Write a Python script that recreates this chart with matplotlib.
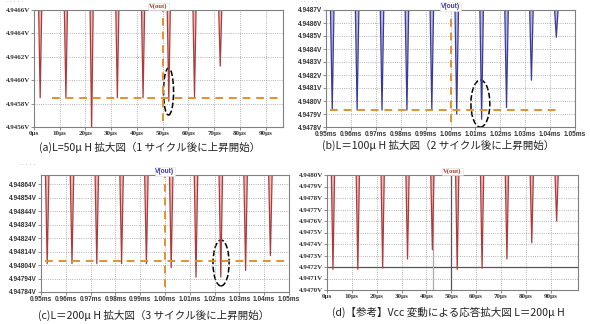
import numpy as np
import matplotlib.pyplot as plt
from matplotlib.patches import Ellipse

plt.rcParams['font.family'] = ['Noto Sans CJK JP', 'DejaVu Sans']

# (a) L=50uH, time in us
a_dip_t = [2.4, 12.4, 22.4, 32.4, 42.4, 52.4, 62.4, 72.4]
a_dip_v = [4.94585, 4.94585, 4.94557, 4.94585, 4.94585, 4.94582, 4.94585, 4.94612]
a_yticks = [4.9456, 4.9458, 4.9460, 4.9462, 4.9464, 4.9466]
a_xticks = [0, 10, 20, 30, 40, 50, 60, 70, 80, 90]
a_level = 4.94585

# (b) L=100uH, time in ms
b_dip_t = [0.9525, 0.9625, 0.9725, 0.9825, 0.9925, 1.0025, 1.0125, 1.0225, 1.0325, 1.0425]
b_dip_v = [4.94793, 4.94793, 4.94793, 4.94793, 4.94793, 4.94790, 4.94786, 4.94795, 4.94816, 4.94849]
b_yticks = [4.9478, 4.9479, 4.9480, 4.9481, 4.9482, 4.9483, 4.9484, 4.9485, 4.9486, 4.9487]
b_xticks = [0.95, 0.96, 0.97, 0.98, 0.99, 1.00, 1.01, 1.02, 1.03, 1.04, 1.05]
b_level = 4.94793

# (c) L=200uH, time in ms
c_dip_t = [0.9525, 0.9625, 0.9725, 0.9825, 0.9925, 1.0025, 1.0125, 1.0225, 1.0325, 1.0425]
c_dip_v = [4.94805, 4.94805, 4.94805, 4.94805, 4.94805, 4.94802, 4.94795, 4.94795, 4.94800, 4.94811]
c_yticks = [4.94784, 4.94794, 4.94804, 4.94814, 4.94824, 4.94834, 4.94844, 4.94854, 4.94864]
c_xticks = b_xticks
c_level = 4.94807

# (d) Vcc variation, L=200uH, time in us
d_dip_t = [2.4, 12.4, 22.4, 32.4, 42.4, 52.4, 62.4, 72.4, 82.4, 92.4]
d_dip_v = [4.94718, 4.94718, 4.94719, 4.94727, 4.94735, 4.94718, 4.94719, 4.94727, 4.94741, 4.94760]
d_yticks = [4.9470, 4.9471, 4.9472, 4.9473, 4.9474, 4.9475, 4.9476, 4.9477, 4.9478, 4.9479, 4.9480]
d_xticks = a_xticks

captions = [
    "(a)L=50μ H 拡大図（1 サイクル後に上昇開始）",
    "(b)L＝100μ H 拡大図（2 サイクル後に上昇開始）",
    "(c)L＝200μ H 拡大図（3 サイクル後に上昇開始）",
    "(d)【参考】Vcc 変動による応答拡大図 L＝200μ H",
]

W, H = 590, 324
fig = plt.figure(figsize=(W / 100, H / 100), dpi=100)


def box(l, t, r, b):
    return [l / W, 1 - b / H, (r - l) / W, (b - t) / H]


def draw_dips(ax, t, v, half, top, color, light):
    for ti, vi in zip(t, v):
        ax.fill([ti - half, ti, ti + half], [top, vi, top], color=light, lw=0)
        ax.plot([ti - half, ti, ti + half], [top, vi, top], color=color, lw=0.9)


def style(ax, xlim, ylim, xticks, yticks, xfmt, yfmt, serif, title_color):
    ax.set_xlim(*xlim)
    ax.set_ylim(*ylim)
    ax.set_xticks(xticks)
    ax.set_yticks(yticks)
    fam = ['Liberation Serif'] if serif else ['Liberation Sans']
    fs = 5 if serif else 4.7
    ax.set_xticklabels([xfmt(x) for x in xticks], fontsize=fs, family=fam,
                       fontweight='bold', color='#333333')
    ax.set_yticklabels([yfmt(y) for y in yticks], fontsize=fs, family=fam,
                       fontweight='bold', color='#333333')
    ax.tick_params(length=2, width=0.6, color='#777777', pad=1)
    ax.grid(True, linestyle=':', color='#9a9a9a', lw=0.6)
    for s in ax.spines.values():
        s.set_color('#808080')
        s.set_linewidth(0.8)
    ax.set_title('V(out)', fontsize=4.8, color=title_color, family=fam,
                 fontweight='bold', pad=1.5,
                 bbox=dict(facecolor='white', edgecolor='#dddddd', lw=0.4, pad=0.6))


orange = '#e2912e'

# (a)
ax = fig.add_axes(box(34, 10, 283, 127))
ylim = (4.9456, 4.9466)
draw_dips(ax, a_dip_t, a_dip_v, 0.6, ylim[1], '#b03a3a', '#e8bcbc')
ax.hlines(a_level, 6.9, 96.4, colors=orange, linestyles=(0, (4, 3)), lw=1.4)
ax.vlines(50, 4.94565, ylim[1], colors=orange, linestyles=(0, (4, 3)), lw=1.4)
ax.add_patch(Ellipse((52.3, 4.945903), 3.9, 0.000402, fill=False, ls='--', lw=1.1, ec='black'))
style(ax, (0, 96.8), ylim, a_xticks, a_yticks,
      lambda x: f"{x:g}µs", lambda y: f"{y:.4f}V", True, '#a04030')

# (b)
ax = fig.add_axes(box(326, 10, 575, 127))
ylim = (4.9478, 4.9487)
draw_dips(ax, b_dip_t, b_dip_v, 0.0007, ylim[1], '#3a3a9a', '#b8b8e0')
ax.hlines(b_level, 0.9516, 1.044, colors=orange, linestyles=(0, (4, 3)), lw=1.4)
ax.vlines(1.00, 4.94784, 4.94868, colors=orange, linestyles=(0, (4, 3)), lw=1.4)
ax.add_patch(Ellipse((1.0120, 4.94798), 0.0076, 0.000362, fill=False, ls='--', lw=1.1, ec='black'))
style(ax, (0.95, 1.05), ylim, b_xticks, b_yticks,
      lambda x: f"{x:.2f}ms", lambda y: f"{y:.4f}V", False, '#3a3a9a')

# (c)
ax = fig.add_axes(box(41, 175, 289, 292))
ylim = (4.94784, 4.948707)
draw_dips(ax, c_dip_t, c_dip_v, 0.0007, ylim[1], '#b03a3a', '#e8bcbc')
ax.hlines(c_level, 0.9516, 1.0496, colors=orange, linestyles=(0, (4, 3)), lw=1.4)
ax.vlines(1.00, 4.94788, ylim[1], colors=orange, linestyles=(0, (4, 3)), lw=1.4)
ax.add_patch(Ellipse((1.0226, 4.948055), 0.0065, 0.00034, fill=False, ls='--', lw=1.1, ec='black'))
style(ax, (0.95, 1.05), ylim, c_xticks, c_yticks,
      lambda x: f"{x:.2f}ms", lambda y: f"{y:.5f}V", False, '#3a3a9a')

# (d)
ax = fig.add_axes(box(327, 175, 578, 290))
ylim = (4.9470, 4.9480)
ax.axhline(4.9472, color='#555555', lw=0.9)
ax.axvline(50, color='#555555', lw=0.9)
ax.axvline(42.7, color='#aaaaaa', lw=0.9)
draw_dips(ax, d_dip_t, d_dip_v, 0.65, ylim[1], '#b03a3a', '#e8bcbc')
style(ax, (0, 101), ylim, d_xticks, d_yticks,
      lambda x: f"{x:g}µs", lambda y: f"{y:.4f}V", True, '#a04030')

# faint screenshot remnants in the corners
for x, y in [(6, 3), (300, 3), (18, 166)]:
    fig.text(x / W, 1 - y / H, '·····', fontsize=5, color='#bbbbbb', va='center')

# captions
cap_pos = [(150, 147), (438, 145), (154, 315), (448, 312)]
for (cx, cy), txt in zip(cap_pos, captions):
    fig.text(cx / W, 1 - cy / H, txt, fontsize=7.6, ha='center', va='center', color='#222222')

fig.savefig('out.png', dpi=100)
